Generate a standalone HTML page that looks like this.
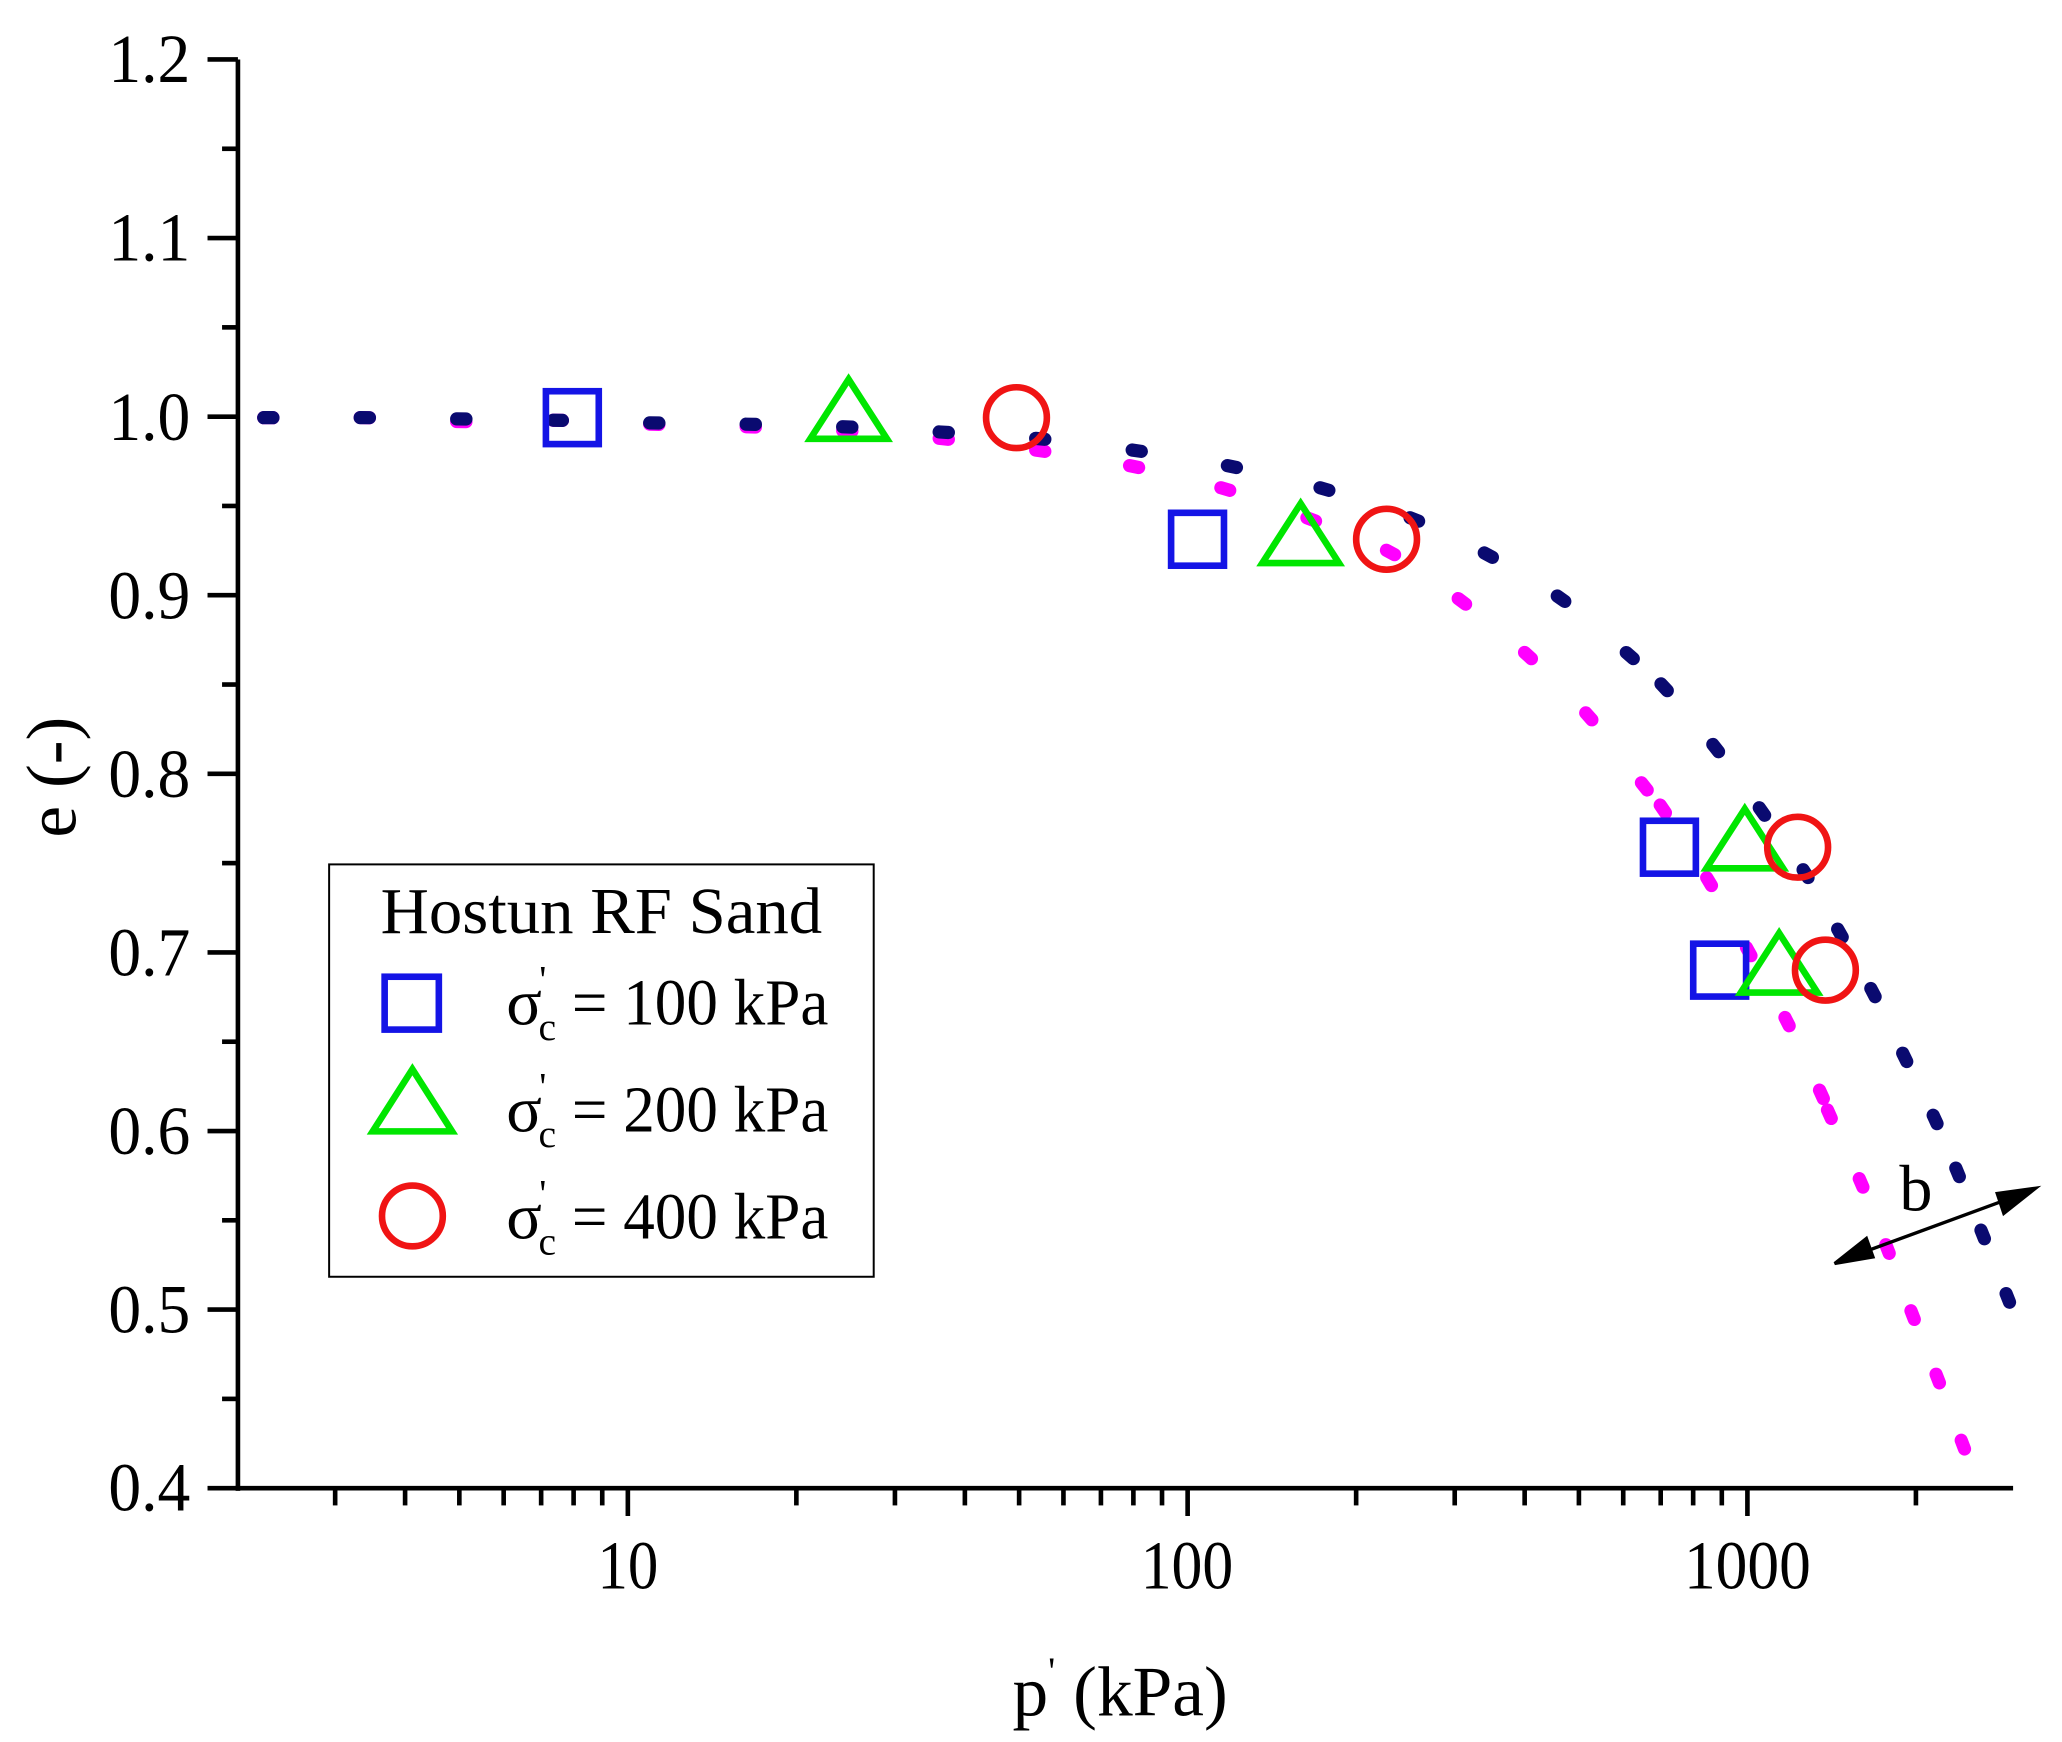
<!DOCTYPE html>
<html><head><meta charset="utf-8"><style>html,body{margin:0;padding:0;background:#fff}svg{display:block}</style></head>
<body>
<svg id="s" width="2062" height="1742" viewBox="0 0 1560 1318" preserveAspectRatio="none" xmlns="http://www.w3.org/2000/svg" font-family="Liberation Serif, serif">
<rect width="1560" height="1318" fill="#fff"/>
<g id="ax" stroke="#000" stroke-width="3.5" fill="none">
<line x1="180" y1="45" x2="180" y2="1128"/>
<line x1="178" y1="1126" x2="1523" y2="1126"/>
</g>
<g font-size="52" fill="#000" lengthAdjust="spacingAndGlyphs">
<text x="82" y="62" textLength="62" lengthAdjust="spacingAndGlyphs">1.2</text><text x="82" y="197" textLength="62" lengthAdjust="spacingAndGlyphs">1.1</text><text x="82" y="333" textLength="62" lengthAdjust="spacingAndGlyphs">1.0</text><text x="82" y="468" textLength="62" lengthAdjust="spacingAndGlyphs">0.9</text><text x="82" y="603" textLength="62" lengthAdjust="spacingAndGlyphs">0.8</text><text x="82" y="738" textLength="62" lengthAdjust="spacingAndGlyphs">0.7</text><text x="82" y="873" textLength="62" lengthAdjust="spacingAndGlyphs">0.6</text><text x="82" y="1008" textLength="62" lengthAdjust="spacingAndGlyphs">0.5</text><text x="82" y="1143" textLength="62" lengthAdjust="spacingAndGlyphs">0.4</text>
</g>
<g font-size="52" fill="#000">
<text x="452" y="1202" textLength="46" lengthAdjust="spacingAndGlyphs">10</text><text x="863" y="1202" textLength="70" lengthAdjust="spacingAndGlyphs">100</text><text x="1274" y="1202" textLength="96" lengthAdjust="spacingAndGlyphs">1000</text>
</g>
<text x="766" y="1298" font-size="54">p<tspan font-size="30" dy="-24">'</tspan><tspan dy="24"> (kPa)</tspan></text>
<text transform="translate(57,588) rotate(-90)" font-size="54" text-anchor="middle">e (-)</text>
<g id="dots"></g>
<g fill="none" stroke-width="5">
<g stroke="#1414e6">
<rect x="413" y="296" width="40" height="40"/><rect x="886" y="388" width="40" height="40"/><rect x="1243" y="621" width="40" height="40"/><rect x="1281" y="714" width="40" height="40"/>
</g>
<g stroke="#00e600">
<polygon points="642,287 671,332 613,332"/><polygon points="984,381 1013,426 955,426"/><polygon points="1320,612 1349,657 1291,657"/><polygon points="1346,706 1375,751 1317,751"/>
</g>
<g stroke="#f01414">
<circle cx="769" cy="316" r="23"/><circle cx="1049" cy="408" r="23"/><circle cx="1360" cy="641" r="23"/><circle cx="1381" cy="734" r="23"/>
</g>
</g>
<rect x="249" y="654" width="412" height="312" fill="none" stroke="#000" stroke-width="1.5"/>
<text x="288" y="706" font-size="50" textLength="334" lengthAdjust="spacingAndGlyphs">Hostun RF Sand</text>
<g fill="none" stroke-width="5">
<rect x="291" y="739" width="41" height="40" stroke="#1414e6"/>
<polygon points="312,809 342,856 282,856" stroke="#00e600"/>
<circle cx="312" cy="920" r="23" stroke="#f01414"/>
</g>
<g font-size="50">
<text x="383" y="775">σ<tspan font-size="30" dy="-24" dx="-2">'</tspan><tspan font-size="30" dy="36" dx="-6">c</tspan><tspan dy="-12" textLength="206" lengthAdjust="spacingAndGlyphs"> = 100 kPa</tspan></text>
<text x="383" y="856">σ<tspan font-size="30" dy="-24" dx="-2">'</tspan><tspan font-size="30" dy="36" dx="-6">c</tspan><tspan dy="-12" textLength="206" lengthAdjust="spacingAndGlyphs"> = 200 kPa</tspan></text>
<text x="383" y="937">σ<tspan font-size="30" dy="-24" dx="-2">'</tspan><tspan font-size="30" dy="36" dx="-6">c</tspan><tspan dy="-12" textLength="206" lengthAdjust="spacingAndGlyphs"> = 400 kPa</tspan></text>
</g>
<text x="1437" y="916" font-size="50">b</text>
<g stroke="#000" stroke-width="2.5" fill="#000">
<line x1="1400" y1="951" x2="1528" y2="904"/>
<polygon points="1388,956 1412,937 1417,951"/>
<polygon points="1540,899 1511,903 1516,918"/>
</g>
</svg>
<script>
(function(){
var ns="http://www.w3.org/2000/svg",ax=document.getElementById("ax"),d=document.getElementById("dots");
function L(p,x1,y1,x2,y2,w){var l=document.createElementNS(ns,"line");l.setAttribute("x1",x1);l.setAttribute("y1",y1);l.setAttribute("x2",x2);l.setAttribute("y2",y2);l.setAttribute("stroke-width",w||3.5);p.appendChild(l);}
for(var i=0;i<=16;i++){var y=45+i*67.56;L(ax,i%2?168:157,y,180,y);}
function X(v){return 475+423.5*(Math.log10(v)-1);}
for(var dec=1;dec<=1000;dec*=10){for(var m=1;m<10;m++){var v=m*dec,x=X(v);if(x<179||x>1524)continue;L(ax,x,1126,x,m==1?1147:1139);}}
function series(pts,col){for(var i=0;i<pts.length;i++){var a=pts[Math.max(0,i-1)],b=pts[Math.min(pts.length-1,i+1)];var dx=b[0]-a[0],dy=b[1]-a[1],n=Math.hypot(dx,dy)||1;dx=dx/n*3.5;dy=dy/n*3.5;var l=document.createElementNS(ns,"line");l.setAttribute("x1",pts[i][0]-dx);l.setAttribute("y1",pts[i][1]-dy);l.setAttribute("x2",pts[i][0]+dx);l.setAttribute("y2",pts[i][1]+dy);l.setAttribute("stroke",col);l.setAttribute("stroke-width",10);l.setAttribute("stroke-linecap","round");d.appendChild(l);}}
series([[203,316],[276,316],[349,319],[422,318],[495,321],[568,323],[641,326],[714,332],[787,341],[858,353],[927,370],[992,393],[1052,418],[1106,455],[1156,496],[1202,542],[1244,595],[1258,612],[1293,667],[1323,720],[1352,773],[1378,828],[1384,843],[1408,895],[1428,945],[1447,995],[1466,1043],[1485,1093]],"#ff00ff");
series([[203,316],[276,316],[349,317],[422,318],[495,320],[568,321],[641,323],[714,327],[787,332],[860,341],[932,353],[1002,370],[1070,393],[1126,420],[1181,453],[1233,496],[1259,520],[1298,566],[1333,614],[1366,661],[1392,706],[1417,751],[1441,800],[1464,847],[1481,887],[1500,934],[1519,982]],"#0a0a70");
})();
</script>
</body></html>
